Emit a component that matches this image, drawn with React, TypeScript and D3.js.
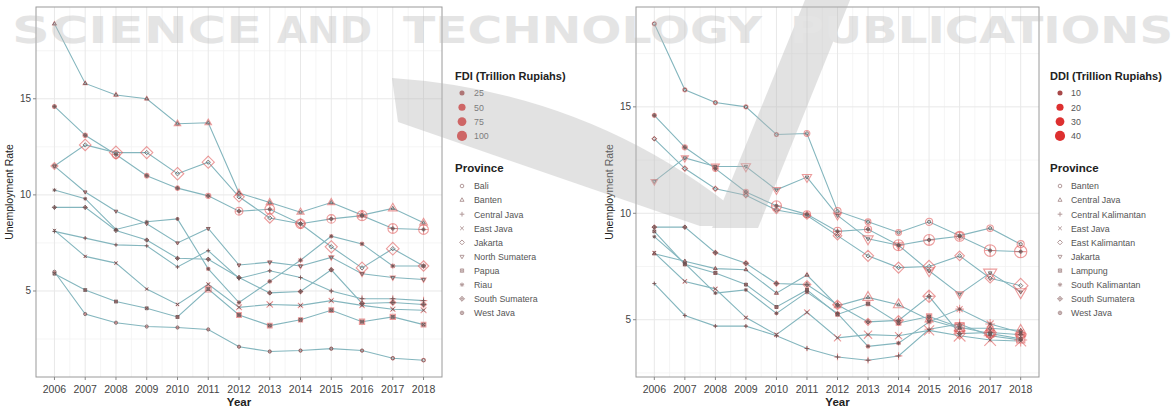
import React from 'react';
import * as d3 from 'd3';

const years = [2006, 2007, 2008, 2009, 2010, 2011, 2012, 2013, 2014, 2015, 2016, 2017, 2018];
const yTicks = [5, 10, 15];

const fdiProvinces = ['Bali', 'Banten', 'Central Java', 'East Java', 'Jakarta', 'North Sumatera', 'Papua', 'Riau', 'South Sumatera', 'West Java'];
const ddiProvinces = ['Banten', 'Central Java', 'Central Kalimantan', 'East Java', 'East Kalimantan', 'Jakarta', 'Lampung', 'South Kalimantan', 'South Sumatera', 'West Java'];
const fdiSizeBreaks = [25, 50, 75, 100];
const ddiSizeBreaks = [10, 20, 30, 40];

// Unemployment rate (%) by province, 2006-2018
const urBali = [6.0, 3.8, 3.35, 3.15, 3.1, 3.0, 2.1, 1.85, 1.9, 2.0, 1.9, 1.5, 1.4];
const urBanten = [18.9, 15.8, 15.2, 15.0, 13.7, 13.75, 10.1, 9.6, 9.1, 9.6, 8.95, 9.3, 8.55];
const urCentralJava = [8.1, 7.75, 7.4, 7.35, 6.25, 7.1, 5.65, 6.05, 5.7, 5.0, 4.6, 4.6, 4.5];
const urEastJava = [8.15, 6.8, 6.45, 5.1, 4.3, 5.35, 4.15, 4.3, 4.25, 4.5, 4.25, 4.05, 4.0];
const urJakarta = [11.5, 12.6, 12.2, 12.2, 11.1, 11.7, 9.9, 8.8, 8.5, 7.3, 6.2, 7.2, 6.3];
const urNorthSumatera = [11.5, 10.15, 9.15, 8.5, 7.5, 8.25, 6.35, 6.5, 6.3, 6.75, 5.9, 5.7, 5.6];
const urPapua = [5.9, 5.05, 4.45, 4.1, 3.65, 5.1, 3.75, 3.2, 3.5, 4.0, 3.4, 3.65, 3.25];
const urRiau = [10.25, 9.8, 8.2, 8.6, 8.75, 6.15, 4.4, 5.5, 6.6, 7.85, 7.45, 6.3, 6.3];
const urSouthSumatera = [9.35, 9.35, 8.15, 7.65, 6.7, 6.65, 5.7, 4.9, 4.97, 6.1, 4.35, 4.4, 4.3];
const urWestJava = [14.6, 13.1, 12.1, 11.0, 10.35, 9.95, 9.15, 9.25, 8.5, 8.75, 8.92, 8.25, 8.2];
const urCentralKalimantan = [6.7, 5.2, 4.7, 4.7, 4.25, 3.65, 3.25, 3.1, 3.3, 4.55, 4.8, 4.25, 4.05];
const urEastKalimantan = [13.5, 12.1, 11.15, 10.85, 10.15, 9.9, 8.95, 8.0, 7.45, 7.5, 8.0, 6.95, 6.6];
const urLampung = [9.15, 7.6, 7.2, 6.65, 5.6, 6.4, 5.25, 5.75, 4.85, 5.15, 4.65, 4.35, 4.1];
const urSouthKalimantan = [8.9, 7.65, 6.25, 6.4, 5.3, 6.3, 5.3, 3.75, 3.9, 4.9, 5.5, 4.8, 4.4];

// FDI (trillion rupiahs)
const fdiBali = [1, 1, 1, 1, 2, 2, 3, 4, 5, 5, 5, 8, 10];
const fdiBanten = [8, 10, 12, 10, 25, 25, 25, 30, 30, 30, 35, 45, 35];
const fdiCentralJava = [2, 3, 2, 2, 3, 3, 5, 6, 6, 10, 20, 20, 25];
const fdiEastJava = [3, 5, 6, 4, 8, 10, 25, 30, 20, 20, 20, 20, 25];
const fdiJakarta = [20, 55, 70, 60, 65, 60, 45, 45, 40, 60, 55, 65, 45];
const fdiNorthSumatera = [2, 3, 2, 2, 3, 5, 5, 10, 12, 15, 15, 15, 15];
const fdiPapua = [1, 2, 3, 2, 5, 30, 20, 20, 15, 20, 25, 25, 20];
const fdiRiau = [3, 5, 3, 2, 6, 10, 10, 12, 15, 10, 12, 15, 15];
const fdiSouthSumatera = [1, 2, 1, 2, 3, 4, 5, 6, 8, 8, 10, 15, 15];
const fdiWestJava = [12, 15, 45, 15, 15, 20, 45, 70, 65, 55, 75, 70, 70];

// DDI (trillion rupiahs)
const ddiBanten = [5, 5, 5, 5, 5, 10, 15, 10, 10, 15, 15, 12, 15];
const ddiCentralJava = [2, 2, 2, 2, 3, 4, 10, 25, 25, 15, 25, 20, 25];
const ddiCentralKalimantan = [1, 2, 2, 2, 3, 5, 8, 8, 10, 15, 20, 30, 30];
const ddiEastJava = [4, 6, 6, 5, 6, 10, 15, 20, 15, 30, 40, 40, 35];
const ddiEastKalimantan = [3, 5, 5, 5, 8, 10, 12, 20, 20, 25, 15, 15, 35];
const ddiJakarta = [10, 12, 15, 20, 15, 20, 15, 25, 15, 25, 15, 40, 30];
const ddiLampung = [1, 3, 3, 2, 3, 3, 5, 5, 8, 10, 30, 20, 25];
const ddiSouthKalimantan = [1, 2, 2, 2, 3, 5, 5, 5, 5, 8, 15, 20, 15];
const ddiSouthSumatera = [3, 2, 4, 5, 5, 10, 15, 8, 15, 25, 20, 25, 20];
const ddiWestJava = [5, 8, 10, 8, 30, 15, 20, 15, 35, 35, 30, 40, 45];

const fdiUr = [urBali, urBanten, urCentralJava, urEastJava, urJakarta, urNorthSumatera, urPapua, urRiau, urSouthSumatera, urWestJava];
const fdiVals = [fdiBali, fdiBanten, fdiCentralJava, fdiEastJava, fdiJakarta, fdiNorthSumatera, fdiPapua, fdiRiau, fdiSouthSumatera, fdiWestJava];
const ddiUr = [urBanten, urCentralJava, urCentralKalimantan, urEastJava, urEastKalimantan, urJakarta, urLampung, urSouthKalimantan, urSouthSumatera, urWestJava];
const ddiVals = [ddiBanten, ddiCentralJava, ddiCentralKalimantan, ddiEastJava, ddiEastKalimantan, ddiJakarta, ddiLampung, ddiSouthKalimantan, ddiSouthSumatera, ddiWestJava];

const FONT = "'Liberation Sans', Arial, sans-serif";

function circ(cx: number, cy: number, r: number) {
  return `M${cx - r},${cy}a${r},${r} 0 1,0 ${2 * r},0a${r},${r} 0 1,0 ${-2 * r},0Z`;
}
function plus(cx: number, cy: number, t: number) {
  return `M${cx - t},${cy}H${cx + t}M${cx},${cy - t}V${cy + t}`;
}
function cross(cx: number, cy: number, t: number) {
  return `M${cx - t},${cy - t}L${cx + t},${cy + t}M${cx - t},${cy + t}L${cx + t},${cy - t}`;
}
function diamond(cx: number, cy: number, t: number) {
  return `M${cx},${cy - t}L${cx + t},${cy}L${cx},${cy + t}L${cx - t},${cy}Z`;
}
function shapePath(k: number, cx: number, cy: number, r: number): string {
  switch (k) {
    case 0: return circ(cx, cy, r);
    case 1: { const t = r * 1.3; return `M${cx},${cy - t}L${cx + t * 0.866},${cy + t * 0.5}L${cx - t * 0.866},${cy + t * 0.5}Z`; }
    case 2: return plus(cx, cy, r * 1.3);
    case 3: return cross(cx, cy, r);
    case 4: return diamond(cx, cy, r * 1.35);
    case 5: { const t = r * 1.3; return `M${cx},${cy + t}L${cx + t * 0.866},${cy - t * 0.5}L${cx - t * 0.866},${cy - t * 0.5}Z`; }
    case 6: { const t = r * 0.9; return `M${cx - t},${cy - t}H${cx + t}V${cy + t}H${cx - t}Z` + cross(cx, cy, t); }
    case 7: return plus(cx, cy, r * 1.2) + cross(cx, cy, r * 0.85);
    case 8: return diamond(cx, cy, r * 1.35) + plus(cx, cy, r * 1.35);
    default: return circ(cx, cy, r) + plus(cx, cy, r);
  }
}

interface PanelCfg {
  x0: number; x1: number; y0: number; y1: number;
  names: string[]; ur: number[][]; vals: number[][];
  breaks: number[]; sizeMax: number; title: string;
  legTitleX: number; legSymX: number; legTextX: number;
}

function Panel({ c }: { c: PanelCfg }) {
  const all = c.ur.flat();
  const mn = d3.min(all)!, mx = d3.max(all)!;
  const pad = (mx - mn) * 0.05;
  const y = d3.scaleLinear().domain([mn - pad, mx + pad]).range([c.y1, c.y0]);
  const x = d3.scaleLinear().domain([years[0] - 0.6, years[years.length - 1] + 0.6]).range([c.x0, c.x1]);
  const size = d3.scaleSqrt().domain([0, c.sizeMax]).range([0, 5.3]);
  const line = d3.line<number>().x((_, i) => x(years[i])).y(d => y(d));
  const minorY = [2.5, 7.5, 12.5, 17.5].filter(v => v > y.domain()[0] && v < y.domain()[1]);
  const minorX = years.slice(0, -1).map(v => v + 0.5);
  const midX = (c.x0 + c.x1) / 2, midY = (c.y0 + c.y1) / 2;
  return (
    <g>
      <rect x={c.x0} y={c.y0} width={c.x1 - c.x0} height={c.y1 - c.y0} fill="#fff" />
      {minorY.map(v => <line key={'my' + v} x1={c.x0} x2={c.x1} y1={y(v)} y2={y(v)} stroke="#f3f3f3" strokeWidth={0.8} />)}
      {minorX.map(v => <line key={'mx' + v} y1={c.y0} y2={c.y1} x1={x(v)} x2={x(v)} stroke="#f3f3f3" strokeWidth={0.8} />)}
      {yTicks.map(v => <line key={'gy' + v} x1={c.x0} x2={c.x1} y1={y(v)} y2={y(v)} stroke="#e8e8e8" strokeWidth={1} />)}
      {years.map(v => <line key={'gx' + v} y1={c.y0} y2={c.y1} x1={x(v)} x2={x(v)} stroke="#e8e8e8" strokeWidth={1} />)}
      {c.ur.map((s, i) => <path key={'l' + i} d={line(s)!} fill="none" stroke="#84b6be" strokeWidth={1.1} />)}
      {c.ur.map((s, i) => s.map((v, j) => (
        <path key={'r' + i + '-' + j} d={shapePath(i, x(years[j]), y(v), size(c.vals[i][j]) * 1.15)} fill="none" stroke="#e05a5a" strokeOpacity={0.6} strokeWidth={1.1} />
      )))}
      {c.ur.map((s, i) => s.map((v, j) => (
        <path key={'d' + i + '-' + j} d={shapePath(i, x(years[j]), y(v), 1.6)} fill="none" stroke="#6a5555" strokeOpacity={0.8} strokeWidth={1} />
      )))}
      <rect x={c.x0} y={c.y0} width={c.x1 - c.x0} height={c.y1 - c.y0} fill="none" stroke="#9a9a9a" strokeWidth={1} />
      {yTicks.map(v => (
        <g key={'ty' + v}>
          <line x1={c.x0 - 3} x2={c.x0} y1={y(v)} y2={y(v)} stroke="#888" />
          <text x={c.x0 - 5} y={y(v) + 3.5} textAnchor="end" fontSize={10} fill="#444" fontFamily={FONT}>{v}</text>
        </g>
      ))}
      {years.map(v => (
        <g key={'tx' + v}>
          <line y1={c.y1} y2={c.y1 + 3} x1={x(v)} x2={x(v)} stroke="#888" />
          <text x={x(v)} y={c.y1 + 16} textAnchor="middle" fontSize={10.5} fill="#444" fontFamily={FONT}>{v}</text>
        </g>
      ))}
      <text x={midX} y={406} textAnchor="middle" fontSize={11.5} fontWeight="bold" fill="#222" fontFamily={FONT}>Year</text>
      <text transform={`translate(${c.x0 - 23},${midY}) rotate(-90)`} textAnchor="middle" fontSize={10.5} fill="#222" fontFamily={FONT}>Unemployment Rate</text>
      {/* legend */}
      <text x={c.legTitleX} y={80} fontSize={11} fontWeight="bold" fill="#222" fontFamily={FONT}>{c.title}</text>
      {c.breaks.map((b, i) => (
        <g key={'sb' + b}>
          <circle cx={c.legSymX} cy={93 + i * 14.3} r={size(b)} fill={i === 0 ? '#a84848' : '#dd3030'} />
          <text x={c.legTextX} y={93 + i * 14.3 + 3.3} fontSize={8.8} fill="#555" fontFamily={FONT}>{b}</text>
        </g>
      ))}
      <text x={c.legTitleX} y={172} fontSize={11.5} fontWeight="bold" fill="#222" fontFamily={FONT}>Province</text>
      {c.names.map((n, i) => (
        <g key={'pl' + n}>
          <path d={shapePath(i, c.legSymX, 186 + i * 14.1, 1.8)} fill="none" stroke="#b39a9a" strokeWidth={1} />
          <text x={c.legTextX} y={186 + i * 14.1 + 3.3} fontSize={8.8} fill="#555" fontFamily={FONT}>{n}</text>
        </g>
      ))}
    </g>
  );
}

export default function App() {
  const left: PanelCfg = {
    x0: 36, x1: 442, y0: 7, y1: 377, names: fdiProvinces, ur: fdiUr, vals: fdiVals,
    breaks: fdiSizeBreaks, sizeMax: 110, title: 'FDI (Trillion Rupiahs)',
    legTitleX: 455, legSymX: 462, legTextX: 474,
  };
  const right: PanelCfg = {
    x0: 636, x1: 1039, y0: 7, y1: 377, names: ddiProvinces, ur: ddiUr, vals: ddiVals,
    breaks: ddiSizeBreaks, sizeMax: 44, title: 'DDI (Trillion Rupiahs)',
    legTitleX: 1050, legSymX: 1060, legTextX: 1071,
  };
  const words = [
    { t: 'SCIENCE', a: 12, b: 262 },
    { t: 'AND', a: 277, b: 372 },
    { t: 'TECHNOLOGY', a: 403, b: 762 },
    { t: 'PUBLICATIONS', a: 790, b: 1173 },
  ];
  return (
    <svg width={1176} height={408} style={{ position: 'fixed', left: 0, top: 0, background: '#fff' }}>
      <rect width={1176} height={408} fill="#fff" />
      <Panel c={left} />
      <Panel c={right} />
      <g opacity={0.4}>
        <path d="M392,78 Q600,92 755,226 L700,226 Q560,178 398,122 Z" fill="#b8b8b8" />
        <path d="M712,228 L758,228 L850,0 L805,0 Z" fill="#b8b8b8" />
        {words.map(w => (
          <text key={w.t} x={w.a} y={43} fontSize={37} fontWeight="bold" fill="#bdbdbd" fontFamily="'DejaVu Sans', sans-serif" textLength={w.b - w.a} lengthAdjust="spacingAndGlyphs">{w.t}</text>
        ))}
      </g>
    </svg>
  );
}
